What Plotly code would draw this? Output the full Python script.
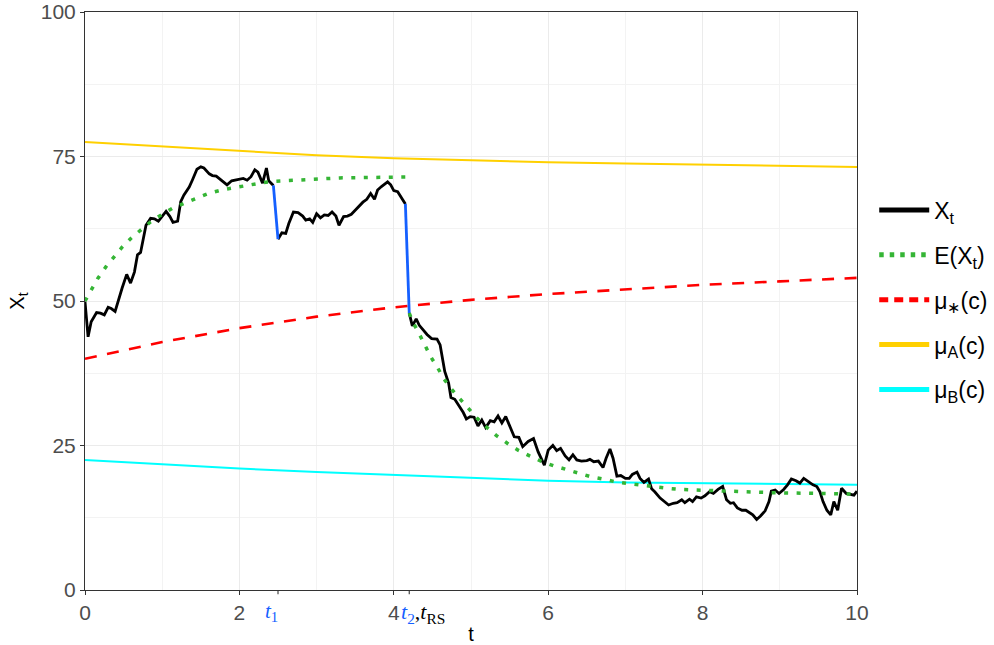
import plotly.graph_objects as go

# Simulated path X_t (jumps at t1 and t2 are drawn separately in blue)
path_t = [
    0.00, 0.04, 0.08, 0.15, 0.20, 0.25, 0.30, 0.34, 0.39, 0.44, 0.48, 0.54, 0.59, 0.64, 0.68, 0.72,
    0.76, 0.79, 0.85, 0.90, 0.95, 1.00, 1.05, 1.10, 1.14, 1.20, 1.24, 1.28, 1.35, 1.39, 1.45, 1.50,
    1.54, 1.61, 1.65, 1.70, 1.76, 1.80, 1.84, 1.90, 1.95, 2.00, 2.05, 2.10, 2.15, 2.20, 2.24, 2.30,
    2.35, 2.38, 2.44,
    2.50, 2.55, 2.60, 2.64, 2.70, 2.76, 2.82, 2.86, 2.91, 2.95, 3.00, 3.05, 3.10, 3.15, 3.20, 3.25,
    3.29, 3.35, 3.40, 3.45, 3.50, 3.55, 3.60, 3.65, 3.70, 3.75, 3.79, 3.84, 3.88, 3.92, 3.96, 4.00,
    4.05, 4.10, 4.15,
    4.20, 4.24, 4.29, 4.33, 4.38, 4.43, 4.49, 4.56, 4.60, 4.63, 4.66, 4.71, 4.74, 4.79, 4.85, 4.90,
    4.94, 4.99, 5.04, 5.09, 5.14, 5.19, 5.25, 5.30, 5.35, 5.40, 5.45, 5.51, 5.56, 5.62, 5.67, 5.74,
    5.81, 5.87, 5.95, 6.00, 6.06, 6.11, 6.16, 6.22, 6.27, 6.32, 6.37, 6.43, 6.50, 6.54, 6.59, 6.65,
    6.71, 6.75, 6.80, 6.84, 6.89, 6.94, 7.00, 7.05, 7.09, 7.15, 7.19, 7.24, 7.30, 7.34, 7.38, 7.45,
    7.50, 7.56, 7.62, 7.67, 7.73, 7.77, 7.83, 7.87, 7.92, 7.98, 8.03, 8.09, 8.14, 8.20, 8.26, 8.31,
    8.36, 8.40, 8.45, 8.51, 8.56, 8.60, 8.65, 8.70, 8.75, 8.81, 8.86, 8.89, 8.94, 8.99, 9.05, 9.10,
    9.15, 9.21, 9.26, 9.31, 9.37, 9.43, 9.48, 9.52, 9.56, 9.61, 9.66, 9.70, 9.75, 9.80, 9.86, 9.91,
    9.96, 10.00,
]
path_x = [
    49.9, 43.8, 46.4, 48.0, 47.9, 47.6, 48.9, 48.7, 48.2, 50.5, 52.2, 54.6, 53.1, 55.0, 58.0, 58.4,
    61.1, 63.1, 64.3, 64.2, 63.8, 64.6, 65.5, 64.6, 63.6, 63.8, 67.2, 68.3, 69.7, 70.9, 72.8, 73.2,
    73.0, 72.0, 71.7, 71.6, 70.9, 70.5, 70.1, 70.8, 70.9, 71.0, 71.2, 70.9, 71.5, 72.7, 72.3, 70.4,
    73.0, 70.8, 70.0,
    60.7, 61.8, 61.7, 63.4, 65.4, 65.3, 64.7, 64.0, 64.2, 63.6, 65.1, 64.4, 64.9, 64.8, 65.4, 64.7,
    63.1, 64.6, 64.7, 65.0, 65.7, 66.4, 67.1, 67.6, 68.6, 67.6, 69.2, 69.8, 70.2, 70.6, 70.1, 69.1,
    68.9, 67.9, 66.8,
    47.9, 45.7, 46.9, 45.8, 45.0, 44.2, 43.5, 43.4, 42.4, 40.1, 37.8, 35.8, 33.3, 33.0, 31.8, 30.7,
    29.6, 30.0, 29.9, 28.4, 29.4, 28.1, 29.3, 29.1, 30.1, 28.9, 30.0, 28.0, 26.5, 26.4, 24.8, 25.7,
    26.2, 23.9, 21.6, 24.2, 25.0, 24.1, 24.5, 23.2, 22.5, 23.4, 22.5, 22.3, 22.4, 22.6, 22.2, 22.3,
    21.2, 22.8, 24.4, 22.8, 19.7, 19.8, 19.3, 19.3, 20.0, 20.4, 19.3, 18.6, 19.2, 17.5, 17.0, 15.9,
    15.3, 14.7, 15.0, 15.1, 15.6, 15.1, 15.7, 15.3, 16.1, 15.9, 16.3, 17.0, 16.7, 17.4, 17.9, 15.6,
    15.0, 15.1, 14.2, 13.8, 13.8, 13.5, 13.0, 12.2, 12.8, 13.7, 15.3, 17.1, 17.3, 16.7, 17.4, 18.2,
    19.2, 18.9, 18.5, 19.3, 18.7, 18.2, 17.9, 17.0, 15.3, 13.8, 13.0, 15.3, 13.8, 17.6, 16.7, 16.6,
    16.4, 17.1,
]
jump_times = [2.50, 4.20]  # t1 and t2 = t_RS

# Expected value E(X_t), before and after the regime switch
ex_t1 = [0.00, 0.09, 0.17, 0.27, 0.37, 0.48, 0.60, 0.73, 0.85, 1.00, 1.14, 1.30, 1.45, 1.60,
         1.77, 1.93, 2.10, 2.27, 2.44, 2.70, 3.00, 3.30, 3.60, 3.90, 4.15]
ex_v1 = [50.0, 52.2, 54.0, 55.9, 57.6, 59.3, 60.9, 62.4, 63.7, 65.0, 66.1, 67.0, 67.8, 68.6,
         69.2, 69.6, 70.1, 70.4, 70.7, 70.9, 71.1, 71.3, 71.35, 71.4, 71.45]
ex_t2 = [4.20, 4.25, 4.33, 4.40, 4.48, 4.57, 4.65, 4.75, 4.86, 4.97, 5.08, 5.20, 5.33, 5.47,
         5.61, 5.76, 5.92, 6.07, 6.24, 6.39, 6.55, 6.71, 6.88, 7.04, 7.21, 7.37, 7.54, 7.71,
         7.88, 8.04, 8.21, 8.38, 8.54, 8.71, 8.88, 9.05, 9.22, 9.38, 9.55, 9.72, 9.89, 10.00]
ex_v2 = [47.9, 46.3, 44.3, 42.3, 40.3, 38.4, 36.5, 34.7, 33.0, 31.3, 29.7, 28.2, 26.7, 25.4,
         24.2, 23.2, 22.2, 21.5, 20.8, 20.2, 19.6, 19.2, 18.7, 18.4, 18.1, 17.9, 17.6, 17.4,
         17.3, 17.2, 17.1, 17.0, 17.0, 16.9, 16.85, 16.8, 16.75, 16.7, 16.7, 16.7, 16.6, 16.6]

# Thresholds mu_*(c), mu_A(c), mu_B(c)
mu_t = [0, 1, 2, 3, 4, 5, 6, 7, 8, 9, 10]
mu_star = [40.0, 42.9, 45.3, 47.3, 48.9, 50.2, 51.2, 52.0, 52.8, 53.4, 54.0]
mu_a = [77.5, 76.7, 75.9, 75.2, 74.7, 74.3, 74.0, 73.8, 73.6, 73.4, 73.2]
mu_b = [22.5, 21.7, 21.0, 20.4, 19.9, 19.4, 18.9, 18.6, 18.45, 18.3, 18.2]

x_ticks = [0, 2, 4, 6, 8, 10]
y_ticks = [0, 25, 50, 75, 100]

SANS = "Liberation Sans, Arial, sans-serif"
SERIF = "Liberation Serif, DejaVu Serif, serif"
BLUE = "#1560ff"
GREEN = "#35b535"
RED = "#ff0000"
GOLD = "#ffd000"
CYAN = "#00ffff"
DOT = "4px,8.5px"
DASH = "12px,10.5px"

# split the path at the jump times
seg_t, seg_x = [], []
blue_t, blue_x = [], []
for i, (t, x) in enumerate(zip(path_t, path_x)):
    if t in jump_times and i > 0:
        seg_t.append(None)
        seg_x.append(None)
        blue_t += [path_t[i - 1], t, None]
        blue_x += [path_x[i - 1], x, None]
    seg_t.append(t)
    seg_x.append(x)

fig = go.Figure()

fig.add_trace(go.Scatter(x=mu_t, y=mu_b, mode="lines", line=dict(color=CYAN, width=2),
                         showlegend=False))
fig.add_trace(go.Scatter(x=mu_t, y=mu_a, mode="lines", line=dict(color=GOLD, width=2),
                         showlegend=False))
fig.add_trace(go.Scatter(x=mu_t, y=mu_star, mode="lines",
                         line=dict(color=RED, width=2.6, dash=DASH), showlegend=False))
fig.add_trace(go.Scatter(x=seg_t, y=seg_x, mode="lines", line=dict(color="black", width=2.8),
                         showlegend=False))
fig.add_trace(go.Scatter(x=blue_t, y=blue_x, mode="lines", line=dict(color=BLUE, width=2.8),
                         showlegend=False, hoverinfo="skip"))
fig.add_trace(go.Scatter(x=ex_t1 + [None] + ex_t2, y=ex_v1 + [None] + ex_v2, mode="lines",
                         line=dict(color=GREEN, width=3.5, dash=DOT), showlegend=False))

# legend keys (drawn with thicker strokes than the plotted lines)
legend_items = [
    ("X<sub>t</sub>", "black", "solid"),
    ("E(X<sub>t</sub>)", GREEN, "4.5px,6px"),
    ("μ<sub>∗</sub>(c)", RED, "9px,6px"),
    ("μ<sub>A</sub>(c)", GOLD, "solid"),
    ("μ<sub>B</sub>(c)", CYAN, "solid"),
]
for k, (name, color, dash) in enumerate(legend_items):
    fig.add_trace(go.Scatter(x=[None], y=[None], mode="lines", name=name,
                             line=dict(color=color, width=5, dash=dash),
                             legendgroup=f"g{k}", legendrank=k + 1, showlegend=True))

# extra tick marks for t1 and t2
shapes = []
for jt in jump_times:
    shapes.append(dict(type="line", xref="x", yref="paper", x0=jt, x1=jt, y0=0, y1=-0.0075,
                       line=dict(color="#333333", width=1.1)))

annotations = [
    dict(x=2.42, y=-0.012, xref="x", yref="paper", xanchor="center", yanchor="top",
         showarrow=False, text="<i>t</i><sub>1</sub>",
         font=dict(family=SERIF, size=21, color=BLUE)),
    dict(x=4.07, y=-0.012, xref="x", yref="paper", xanchor="left", yanchor="top",
         showarrow=False,
         text="<span style='color:" + BLUE + "'><i>t</i><sub>2</sub></span>,<i>t</i><sub>RS</sub>",
         font=dict(family=SERIF, size=22, color="black")),
]

fig.update_layout(
    width=994, height=645,
    margin=dict(l=85, r=137, t=12, b=55),
    paper_bgcolor="white", plot_bgcolor="white",
    font=dict(family=SANS, color="black"),
    showlegend=True,
    legend=dict(xref="container", yref="container", x=0.8795, y=0.535,
                xanchor="left", yanchor="middle",
                font=dict(family=SANS, size=23, color="black"),
                tracegroupgap=12, itemwidth=50, bgcolor="rgba(0,0,0,0)"),
    shapes=shapes,
    annotations=annotations,
    xaxis=dict(range=[0, 10], tickvals=x_ticks, ticktext=[str(v) for v in x_ticks],
               automargin=False,
               showgrid=True, gridcolor="#ebebeb", gridwidth=1.2,
               minor=dict(dtick=1, showgrid=True, gridcolor="#f3f3f3", gridwidth=0.8),
               showline=True, linecolor="#333333", linewidth=1.1, mirror=True,
               ticks="outside", ticklen=4, tickcolor="#333333", tickwidth=1.1,
               tickfont=dict(family=SANS, size=21, color="#4d4d4d"),
               title=dict(text="t", font=dict(family=SANS, size=20, color="black"), standoff=4),
               zeroline=False),
    yaxis=dict(range=[0, 100], tickvals=y_ticks, ticktext=[str(v) for v in y_ticks],
               automargin=False,
               showgrid=True, gridcolor="#ebebeb", gridwidth=1.2,
               minor=dict(dtick=12.5, tick0=0, showgrid=True, gridcolor="#f3f3f3", gridwidth=0.8),
               showline=True, linecolor="#333333", linewidth=1.1, mirror=True,
               ticks="outside", ticklen=4, tickcolor="#333333", tickwidth=1.1,
               tickfont=dict(family=SANS, size=21, color="#4d4d4d"),
               title=dict(text="X<sub>t</sub>", font=dict(family=SANS, size=20, color="black"),
                          standoff=10),
               zeroline=False),
)

fig.write_html("out.html")
